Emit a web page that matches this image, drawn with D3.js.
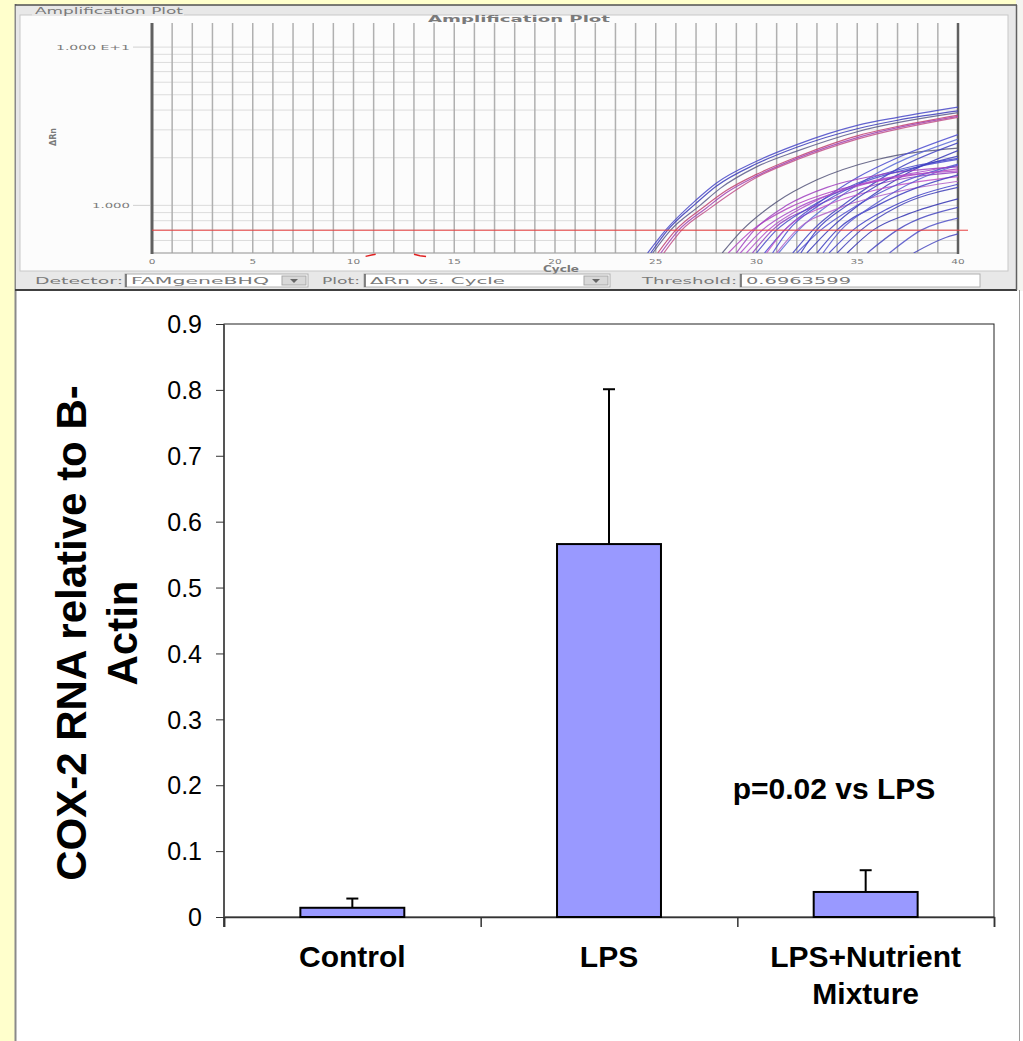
<!DOCTYPE html>
<html>
<head>
<meta charset="utf-8">
<script src="https://cdn.jsdelivr.net/npm/d3@7"></script>
<style>
  body { margin: 0; background: #FFFFCC; }
  svg { display: block; }
  .smalltxt { font-family: 'DejaVu Sans', sans-serif; fill: #7a7a7a; }
  .chart text { font-family: 'Liberation Sans', Arial, sans-serif; fill: #000; }
</style>
</head>
<body>
<div id="page"></div>
<script>
// ---- bar chart data ----
const categories = ['Control', 'LPS', 'LPS+Nutrient Mixture'];
const catLines = [['Control'], ['LPS'], ['LPS+Nutrient', 'Mixture']];
const means = [0.014, 0.566, 0.038];
const errs = [0.014, 0.235, 0.033];
const yTickValues = [0, 0.1, 0.2, 0.3, 0.4, 0.5, 0.6, 0.7, 0.8, 0.9];
const yTickLabels = ['0', '0.1', '0.2', '0.3', '0.4', '0.5', '0.6', '0.7', '0.8', '0.9'];
const pNote = 'p=0.02 vs LPS';

// ---- amplification plot data (cycle, delta Rn) ----
const cycleTicks = [0, 5, 10, 15, 20, 25, 30, 35, 40];
const threshold = 0.6963599;
const earlyCurves = [
  [[24.6,0.5],[25.5,0.7],[27,1.08],[28,1.38],[30,1.9],[32,2.42],[35,3.2],[37,3.6],[40,4.18]],
  [[24.75,0.5],[25.6,0.7],[27,1.03],[28,1.32],[30,1.83],[32,2.33],[35,3.05],[37,3.45],[40,3.95]],
  [[24.85,0.5],[25.75,0.7],[27.2,1.0],[28.2,1.28],[30,1.75],[32,2.2],[35,2.92],[40,3.85]],
  [[25.1,0.5],[26.0,0.7],[27.4,0.98],[28.5,1.24],[30,1.57],[32,2.02],[35,2.75],[37,3.15],[40,3.72]],
  [[25.25,0.5],[26.15,0.7],[27.5,0.96],[28.5,1.2],[30,1.53],[32,1.98],[35,2.68],[40,3.65]],
  [[25.4,0.5],[26.3,0.7],[27.6,0.94],[30,1.5],[32,1.94],[35,2.62],[40,3.6]]
];
const lateCurves = [
  [[28.3,0.5],[29.3,0.7],[31,1.05],[33,1.45],[36,1.95],[40,2.3]],
  [[30.4,0.5],[31.4,0.7],[33,1.02],[35,1.5],[37,2.0],[40,2.8]],
  [[31.1,0.5],[32.1,0.7],[34,1.1],[36,1.6],[40,2.62]],
  [[31.8,0.5],[32.8,0.7],[34.5,1.05],[37,1.7],[40,2.48]],
  [[32.5,0.5],[33.6,0.7],[35.5,1.1],[37.5,1.6],[40,2.22]],
  [[28.6,0.5],[29.8,0.7],[31.5,0.95],[34,1.25],[37,1.5],[40,1.7]],
  [[29.2,0.5],[30.3,0.7],[32,0.96],[35,1.32],[40,1.78]],
  [[29.8,0.5],[30.8,0.7],[33,1.0],[36,1.36],[40,1.62]],
  [[30.5,0.5],[31.4,0.7],[33.5,1.0],[36.5,1.3],[40,1.52]],
  [[31.0,0.5],[32.0,0.7],[34,0.95],[37,1.22],[40,1.42]],
  [[30.0,0.5],[31.0,0.7],[32.5,0.95],[35,1.38],[40,1.98]],
  [[32.0,0.5],[33.2,0.7],[35,1.0],[37,1.36],[40,1.82]],
  [[33.0,0.5],[34.0,0.7],[36,1.0],[38,1.3],[40,1.56]],
  [[33.6,0.5],[34.8,0.7],[36.5,0.95],[38,1.15],[40,1.36]],
  [[34.5,0.5],[35.8,0.7],[37.5,0.88],[40,1.1]],
  [[35.5,0.5],[37.0,0.7],[40,0.97]],
  [[36.6,0.5],[38.2,0.7],[40,0.83]],
  [[37.8,0.5],[39.3,0.62],[40,0.66]],
  [[29.0,0.5],[29.9,0.7],[31.5,1.0],[33.5,1.3],[36,1.55],[40,1.75]],
  [[30.8,0.5],[31.6,0.7],[33,0.98],[35,1.35],[38,1.75],[40,1.95]],
  [[32.2,0.5],[33.0,0.7],[34.5,1.0],[36.5,1.45],[40,2.05]],
  [[33.3,0.5],[34.2,0.7],[35.8,1.0],[38,1.45],[40,1.8]],
  [[34.0,0.5],[35.2,0.7],[37,0.98],[40,1.3]],
  [[29.5,0.5],[30.6,0.7],[32.5,1.0],[35.5,1.4],[40,1.65]]
];
const earlyColors = ['#4848c8', '#3a3ab8', '#5a5a88', '#c04070', '#a040b0', '#c05088'];
const lateColors = ['#55557a', '#4a4ad0', '#5a6ad8', '#4040c0', '#3838b8', '#b040c0', '#a848c8',
  '#9040c0', '#c050c8', '#b060c8', '#4848c8', '#5050d0', '#3c3cc0', '#4040c8', '#3030b0', '#4545c0',
  '#5050c8', '#4848c0', '#a040c0', '#4a4ad0', '#3c3cc0', '#5858d0', '#4040b8', '#b050c8'];
const redMarks = [[[10.6,0.49],[10.9,0.5],[11.1,0.505]], [[13.0,0.505],[13.3,0.495],[13.6,0.49]]];

const W = 1023, H = 1041;
const svg = d3.select('#page').append('svg').attr('width', W).attr('height', H);

// page background + left rule
svg.append('rect').attr('width', W).attr('height', H).attr('fill', '#FFFFCC');
svg.append('rect').attr('x', 16).attr('y', 291).attr('width', 1007).attr('height', 750).attr('fill', '#fff');
svg.append('rect').attr('x', 1016).attr('y', 0).attr('width', 7).attr('height', 291).attr('fill', '#f4f4f0');
svg.append('line').attr('x1', 15.5).attr('x2', 15.5).attr('y1', 4).attr('y2', H).attr('stroke', '#8a8a8a').attr('stroke-width', 2);
svg.append('line').attr('x1', 1019.5).attr('x2', 1019.5).attr('y1', 290).attr('y2', H).attr('stroke', '#9a9a9a').attr('stroke-width', 1);

// ================= top: amplification plot screenshot =================
const panel = svg.append('g');
panel.append('rect').attr('x', 16).attr('y', 5).attr('width', 1001).attr('height', 285).attr('fill', '#e8e8e8');
panel.append('line').attr('x1', 15).attr('x2', 1017).attr('y1', 5).attr('y2', 5).attr('stroke', '#505050').attr('stroke-width', 1.5);
panel.append('line').attr('x1', 15).attr('x2', 1017).attr('y1', 290).attr('y2', 290).attr('stroke', '#404040').attr('stroke-width', 2);
panel.append('line').attr('x1', 1016.5).attr('x2', 1016.5).attr('y1', 5).attr('y2', 290).attr('stroke', '#606060').attr('stroke-width', 1.5);
panel.append('rect').attr('x', 20).attr('y', 15).attr('width', 988).attr('height', 256)
   .attr('fill', '#fcfcfc').attr('stroke', '#c8c8c8');
panel.append('rect').attr('x', 32).attr('y', 6).attr('width', 152).attr('height', 10).attr('fill', '#e8e8e8');
panel.append('text').attr('class', 'smalltxt').attr('x', 35).attr('y', 13.5).attr('font-size', 8)
   .attr('textLength', 148).attr('lengthAdjust', 'spacingAndGlyphs').text('Amplification Plot');

const ax = d3.scaleLinear().domain([0, 40]).range([152, 958]);
const ay = d3.scaleLog().domain([0.5, 14.2]).range([253, 23]);

const plot = panel.append('g');
// horizontal (log) grid
plot.selectAll('.hg').data(ay.ticks()).enter().append('line')
    .attr('x1', ax(0)).attr('x2', ax(40)).attr('y1', d => ay(d)).attr('y2', d => ay(d))
    .attr('stroke', '#dcdcdc').attr('stroke-width', 1);
// vertical grid each cycle
plot.selectAll('.vg').data(d3.range(0, 41)).enter().append('line')
    .attr('x1', d => ax(d)).attr('x2', d => ax(d)).attr('y1', 23).attr('y2', 253)
    .attr('stroke', '#b0b0b0').attr('stroke-width', 1.5);
plot.append('line').attr('x1', ax(0)).attr('x2', ax(40)).attr('y1', 253).attr('y2', 253).attr('stroke', '#a0a0a0');
plot.append('line').attr('x1', ax(0)).attr('x2', ax(0)).attr('y1', 23).attr('y2', 254).attr('stroke', '#606060').attr('stroke-width', 3);
plot.append('line').attr('x1', ax(40)).attr('x2', ax(40)).attr('y1', 23).attr('y2', 254).attr('stroke', '#606060').attr('stroke-width', 2.5);

// y labels of the log axis
plot.append('text').attr('class', 'smalltxt').attr('x', 130).attr('y', ay(10) + 3).attr('font-size', 7)
    .attr('text-anchor', 'end').attr('textLength', 74).attr('lengthAdjust', 'spacingAndGlyphs').text('1.000 E+1');
plot.append('text').attr('class', 'smalltxt').attr('x', 130).attr('y', ay(1) + 3).attr('font-size', 7)
    .attr('text-anchor', 'end').attr('textLength', 38).attr('lengthAdjust', 'spacingAndGlyphs').text('1.000');
plot.selectAll('.ytk').data([10, 1]).enter().append('line')
    .attr('x1', 133).attr('x2', 150).attr('y1', d => ay(d)).attr('y2', d => ay(d)).attr('stroke', '#d0d0d0');
plot.append('text').attr('class', 'smalltxt').attr('transform', 'translate(56,137) rotate(-90)')
    .attr('font-size', 8).attr('font-weight', 'bold').attr('fill', '#555').attr('text-anchor', 'middle').text('ΔRn');

// x tick labels
plot.selectAll('.xtl').data(cycleTicks).enter().append('text').attr('class', 'smalltxt')
    .attr('x', d => ax(d)).attr('y', 264.5).attr('font-size', 7).attr('text-anchor', 'middle')
    .attr('transform', d => `translate(${ax(d)},0) scale(1.5,1) translate(${-ax(d)},0)`)
    .text(d => d);
plot.append('text').attr('class', 'smalltxt').attr('x', 561).attr('y', 271.5).attr('font-size', 8)
    .attr('font-weight', 'bold').attr('fill', '#666').attr('text-anchor', 'middle')
    .attr('textLength', 36).attr('lengthAdjust', 'spacingAndGlyphs').text('Cycle');
plot.append('text').attr('class', 'smalltxt').attr('x', 519).attr('y', 22).attr('font-size', 9)
    .attr('font-weight', 'bold').attr('fill', '#444').attr('text-anchor', 'middle')
    .attr('textLength', 182).attr('lengthAdjust', 'spacingAndGlyphs').text('Amplification Plot');

// amplification curves
const clip = svg.append('clipPath').attr('id', 'ampclip');
clip.append('rect').attr('x', ax(0)).attr('y', 23).attr('width', ax(40) - ax(0)).attr('height', 230);
const line = d3.line().x(d => ax(d[0])).y(d => ay(d[1])).curve(d3.curveMonotoneX);
const curves = plot.append('g').attr('clip-path', 'url(#ampclip)');
curves.selectAll('.late').data(lateCurves).enter().append('path')
    .attr('d', line).attr('fill', 'none').attr('stroke', (d, i) => lateColors[i])
    .attr('stroke-width', 1.2).attr('stroke-opacity', 0.85);
curves.selectAll('.early').data(earlyCurves).enter().append('path')
    .attr('d', line).attr('fill', 'none').attr('stroke', (d, i) => earlyColors[i])
    .attr('stroke-width', 1.2).attr('stroke-opacity', 0.85);
plot.selectAll('.rm').data(redMarks).enter().append('path')
    .attr('d', d3.line().x(d => ax(d[0])).y(d => ay(d[1]) + 2)).attr('fill', 'none')
    .attr('stroke', '#e02020').attr('stroke-width', 1.5);
plot.append('line').attr('x1', ax(0)).attr('x2', ax(40) + 10).attr('y1', ay(threshold)).attr('y2', ay(threshold))
    .attr('stroke', '#e84040').attr('stroke-width', 1);

// control strip
const strip = panel.append('g');
function label(x, y, w, t) {
  strip.append('text').attr('class', 'smalltxt').attr('x', x).attr('y', y).attr('font-size', 8)
       .attr('textLength', w).attr('lengthAdjust', 'spacingAndGlyphs').text(t);
}
function box(x, w, t, tw, btn) {
  strip.append('rect').attr('x', x).attr('y', 274).attr('width', w).attr('height', 13)
       .attr('fill', '#fff').attr('stroke', '#b0b0b0');
  strip.append('line').attr('x1', x + 1).attr('x2', x + 1).attr('y1', 274).attr('y2', 287).attr('stroke', '#606060').attr('stroke-width', 1.5);
  label(x + 6, 284, tw, t);
  if (btn) {
    strip.append('rect').attr('x', x + w - 26).attr('y', 276).attr('width', 24).attr('height', 9)
         .attr('fill', '#d8d8d8').attr('stroke', '#a8a8a8');
    strip.append('path').attr('d', `M${x + w - 18},279 l8,0 l-4,4 z`).attr('fill', '#666');
  }
}
label(35, 284, 88, 'Detector:');
box(125, 183, 'FAMgeneBHQ', 138, true);
label(322, 284, 38, 'Plot:');
box(364, 246, 'ΔRn vs. Cycle', 135, true);
label(642, 284, 95, 'Threshold:');
box(740, 240, '0.6963599', 105, false);

// ================= bottom: bar chart =================
const chart = svg.append('g').attr('class', 'chart');
const x = d3.scaleBand().domain(categories).range([224, 994]);
const xEdge = d3.scaleLinear().domain([0, categories.length]).range([224, 994]);
const y = d3.scaleLinear().domain([0, 0.9]).range([917, 324]);
const bw = x.bandwidth() * 0.405;

chart.append('rect').attr('x', 224).attr('y', 324).attr('width', 770).attr('height', 593)
     .attr('fill', 'none').attr('stroke', '#222').attr('stroke-width', 1);

const yAxis = chart.append('g').attr('transform', 'translate(224,0)')
  .call(d3.axisLeft(y).tickValues(yTickValues).tickSize(8).tickPadding(14)
          .tickFormat((d, i) => yTickLabels[i]));
yAxis.select('.domain').attr('stroke', '#555').attr('stroke-width', 2)
     .attr('d', 'M0,324V927');
yAxis.selectAll('.tick line').attr('stroke', '#333');
yAxis.selectAll('.tick text').attr('font-size', 25).attr('font-family', 'Liberation Sans, Arial, sans-serif')
     .attr('fill', '#000').attr('dy', '0.35em');

const xAxis = chart.append('g').attr('transform', 'translate(0,917)')
  .call(d3.axisBottom(xEdge).tickValues(d3.range(0, categories.length + 1)).tickSize(10).tickFormat(''));
xAxis.select('.domain').attr('stroke', '#333').attr('stroke-width', 1.5);
xAxis.selectAll('.tick line').attr('stroke', '#333').attr('stroke-width', 1.5);

// bars
chart.selectAll('.bar').data(categories).enter().append('rect')
     .attr('x', d => x(d) + (x.bandwidth() - bw) / 2)
     .attr('y', (d, i) => y(means[i]))
     .attr('width', bw)
     .attr('height', (d, i) => y(0) - y(means[i]))
     .attr('fill', '#9999FF').attr('stroke', '#000').attr('stroke-width', 2);

// error bars (upper only)
const eb = chart.selectAll('.err').data(categories).enter().append('g');
eb.append('line').attr('x1', d => x(d) + x.bandwidth() / 2).attr('x2', d => x(d) + x.bandwidth() / 2)
  .attr('y1', (d, i) => y(means[i])).attr('y2', (d, i) => y(means[i] + errs[i]))
  .attr('stroke', '#000').attr('stroke-width', 2);
eb.append('line').attr('x1', d => x(d) + x.bandwidth() / 2 - 6).attr('x2', d => x(d) + x.bandwidth() / 2 + 6)
  .attr('y1', (d, i) => y(means[i] + errs[i])).attr('y2', (d, i) => y(means[i] + errs[i]))
  .attr('stroke', '#000').attr('stroke-width', 2);

// category labels
catLines.forEach((lines, i) => {
  lines.forEach((t, j) => {
    chart.append('text').attr('x', x(categories[i]) + x.bandwidth() / 2).attr('y', 967 + j * 37)
         .attr('text-anchor', 'middle').attr('font-size', 30).attr('font-weight', 'bold').text(t);
  });
});

// y title
const yTitle = ['COX-2 RNA relative to B-', 'Actin'];
yTitle.forEach((t, j) => {
  chart.append('text').attr('transform', `translate(${86 + j * 51},633) rotate(-90)`)
       .attr('text-anchor', 'middle').attr('font-size', 42).attr('font-weight', 'bold').text(t);
});

// p-value note
chart.append('text').attr('x', 834).attr('y', 799).attr('text-anchor', 'middle')
     .attr('font-size', 30).attr('font-weight', 'bold').text(pNote);
</script>
</body>
</html>
